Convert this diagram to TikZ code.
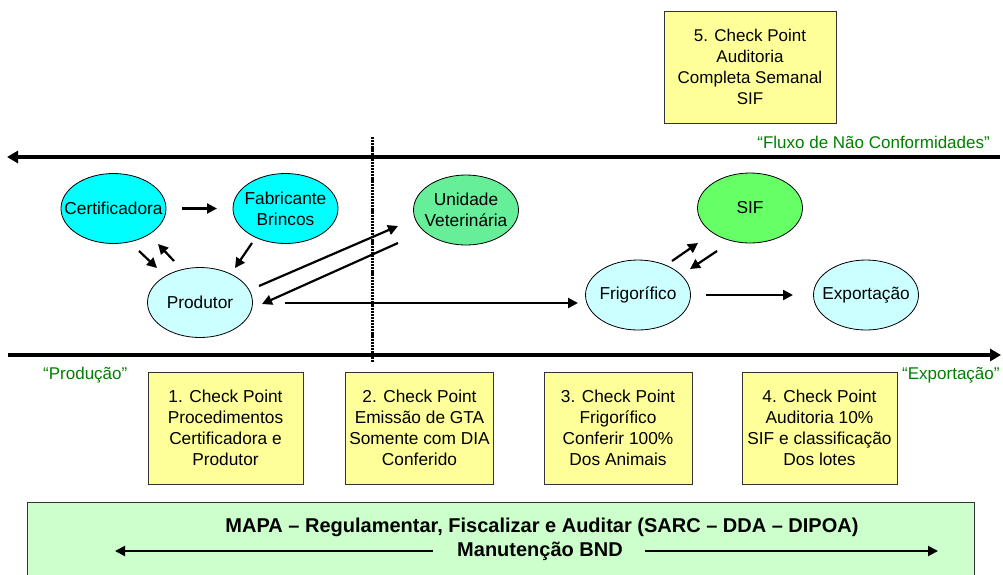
\documentclass[tikz,border=0pt]{standalone}
\usepackage{fontspec}
\setmainfont{Liberation Sans}
\usetikzlibrary{arrows.meta,shapes.geometric,calc}
\definecolor{cyanA}{HTML}{00FFFF}
\definecolor{cyanL}{HTML}{CCFFFF}
\definecolor{greenU}{HTML}{66EE99}
\definecolor{greenS}{HTML}{66FF66}
\definecolor{yellowB}{HTML}{FFFF99}
\definecolor{greenBox}{HTML}{CCFFCC}
\definecolor{txtgreen}{HTML}{008000}
\definecolor{boxline}{HTML}{333333}
\tikzset{
  ell/.style={ellipse, draw=black, line width=0.8pt, minimum width=105pt, minimum height=70pt, inner sep=0pt},
  elltxt/.style={font=\fontsize{17.3}{21}\selectfont, align=center, inner sep=0pt},
  cpbox/.style={draw=boxline, fill=yellowB, line width=0.8pt, inner sep=0pt, align=center, font=\fontsize{17.3}{21}\selectfont},
  arr/.style={line width=2.2pt, -{Triangle[length=10pt,width=10pt]}},
  bigarr/.style={line width=4pt, -{Triangle[length=11pt,width=12pt]}},
  gtxt/.style={text=txtgreen, font=\fontsize{17}{21}\selectfont, inner sep=0pt},
  btxt/.style={font=\fontsize{20}{24}\selectfont\bfseries, inner sep=0pt}
}
\begin{document}
\begin{tikzpicture}[x=1pt,y=-1pt]
\useasboundingbox (0,0) rectangle (1003,574);
% bottom green box
\node[draw=boxline, fill=greenBox, line width=0.8pt, minimum width=947pt, minimum height=78pt, inner sep=0pt] (mapabox) at (500.5,541) {};
\node[btxt] (mapa) at (542,527) {MAPA – Regulamentar, Fiscalizar e Auditar (SARC – DDA – DIPOA)};
\node[btxt] (bnd) at (540,551) {Manutenção BND};
\coordinate (bndL) at (115,551);
\coordinate (bndR) at (938,551);
\draw[arr, line width=2pt] ($(bnd.west)+(-24,0)$) -- (bndL);
\draw[arr, line width=2pt] ($(bnd.east)+(22,0)$) -- (bndR);
% check point boxes
\node[cpbox, minimum width=155pt, minimum height=112pt] (cp1) at (225.5,428) {1. Check Point\\Procedimentos\\Certificadora e\\Produtor};
\node[cpbox, minimum width=148pt, minimum height=112pt] (cp2) at (419.5,428) {2. Check Point\\Emissão de GTA\\Somente com DIA\\Conferido};
\node[cpbox, minimum width=148pt, minimum height=112pt] (cp3) at (618,428) {3. Check Point\\Frigorífico\\Conferir 100\%\\Dos Animais};
\node[cpbox, minimum width=155pt, minimum height=112pt] (cp4) at (819.5,428) {4. Check Point\\Auditoria 10\%\\SIF e classificação\\Dos lotes};
\node[cpbox, minimum width=172pt, minimum height=112pt, font=\fontsize{17}{21}\selectfont] (cp5) at (750,67) {5. Check Point\\Auditoria\\Completa Semanal\\SIF};
% main arrows
\coordinate (topR) at (1000,157);
\coordinate (topL) at (7,157);
\draw[bigarr] (topR) -- (topL);
\coordinate (botL) at (8,355);
\coordinate (botR) at (1001,355);
\draw[bigarr] (botL) -- (botR);
% dotted divider
\coordinate (dotT) at (372,137);
\coordinate (dotB) at (372,362);
\draw[line width=3pt, dash pattern=on 2.2pt off 0.9pt] (dotT) -- (dotB);
% green labels
\node[gtxt, anchor=east] (fluxo) at (990,142) {“Fluxo de Não Conformidades”};
\node[gtxt, anchor=west] (prodlab) at (43,375) {“Produção”};
\node[gtxt, anchor=west] (explab) at (902,375) {“Exportação”};
% ellipses
\node[ell, fill=cyanA, label={[elltxt]center:Certificadora}] (cert) at (113.5,208.5) {};
\node[ell, fill=cyanA, label={[elltxt]center:{Fabricante\\Brincos}}] (fab) at (285.5,208.5) {};
\node[ell, fill=cyanL, label={[elltxt]center:Produtor}] (prod) at (200,302.5) {};
\node[ell, fill=greenU, label={[elltxt]center:{Unidade\\Veterinária}}] (unid) at (466,210) {};
\node[ell, fill=greenS, label={[elltxt]center:SIF}] (sif) at (750,208) {};
\node[ell, fill=cyanL, label={[elltxt]center:Frigorífico}] (frig) at (638,295) {};
\node[ell, fill=cyanL, label={[elltxt]center:Exportação}] (expo) at (866,295) {};
% connectors
\draw[arr] ($(cert)+(68.5,0)$) -- ($(fab)+(-68.5,0)$);
\draw[arr] ($(cert)+(25.5,42.5)$) -- ($(prod)+(-43,-34.5)$);
\draw[arr] ($(prod)+(-26,-41.5)$) -- ($(cert)+(44.5,35.5)$);
\draw[arr] ($(fab)+(-33.5,34.5)$) -- ($(prod)+(35,-34.5)$);
\draw[arr] ($(prod)+(59,-16.5)$) -- ($(unid)+(-68,16)$);
\draw[arr] ($(unid)+(-68,33)$) -- ($(prod)+(62,1.5)$);
\draw[arr] ($(prod)+(85,0.5)$) -- ($(frig)+(-60,8)$);
\draw[arr] ($(frig)+(34,-34)$) -- ($(sif)+(-52,35)$);
\draw[arr] ($(sif)+(-33,43)$) -- ($(frig)+(52,-26)$);
\draw[arr] ($(frig)+(68,0)$) -- ($(expo)+(-73,0)$);
\end{tikzpicture}
\end{document}
